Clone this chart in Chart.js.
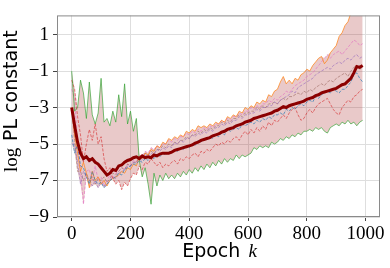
<!DOCTYPE html>
<html>
<head>
<meta charset="utf-8">
<script src="https://cdn.jsdelivr.net/npm/chart.js@4/dist/chart.umd.min.js"></script>
<style>
  html, body { margin: 0; padding: 0; background: #fff; }
  #wrap { width: 390px; height: 268px; position: relative; }
</style>
</head>
<body>
<div id="wrap"><canvas id="pl-chart"></canvas></div>
<script>
// epochs sampled every 10
const epochs = Array.from({ length: 100 }, (_, i) => i * 10);

const xTicks = [0, 200, 400, 600, 800, 1000];
const yTicks = [-9, -8, -7, -6, -5, -4, -3, -2, -1, 0, 1, 2];

// log PL constant per run
const blueRun = [
    -4.5, -5.5, -5.0, -6.2, -6.3, -6.8, -7.2, -6.5, -7.0, -7.2, -7.1, -7.4, -7.2, -7.0, -6.9, -6.8, -6.6, -6.7, -6.4, -6.3, -6.2, -6.1, -6.1,
    -5.9, -6.0, -5.8, -5.9, -5.7, -5.8, -5.6, -5.7, -5.5, -5.6, -5.4, -5.5, -5.3, -5.4, -5.2, -5.3, -5.1, -5.2, -5.0, -5.1,
    -4.8, -4.9, -4.7, -4.8, -4.6, -4.7, -4.5, -4.6, -4.4, -4.5, -4.2, -4.3, -4.2, -4.1, -4.2, -3.9, -4.0, -3.9, -3.8, -3.9,
    -3.7, -3.8, -3.6, -3.7, -3.5, -3.6, -3.4, -3.4, -3.3, -3.4, -3.1, -3.2, -3.0, -3.1, -2.9, -2.8, -2.9, -2.7, -2.6, -2.7,
    -2.4, -2.5, -2.3, -2.2, -2.1, -2.2, -2.0, -2.1, -2.2, -2.0, -2.0, -1.8, -1.6, -1.2, -1.1, -1.4, -1.6
];
const orangeRun = [
    -3.0, -4.5, -5.5, -6.5, -6.0, -6.6, -7.4, -6.5, -7.0, -6.8, -7.2, -7.0, -7.3, -7.0, -6.9, -6.8, -6.7, -6.5, -6.6, -6.3, -6.4, -6.1, -6.2,
    -5.7, -5.8, -5.5, -5.6, -5.3, -5.4, -5.1, -5.2, -4.9, -5.0, -4.7, -4.8, -4.6, -4.7, -4.5, -4.6, -4.3, -4.4, -4.2, -4.3,
    -4.0, -4.1, -4.0, -4.1, -3.9, -4.0, -3.8, -3.9, -3.7, -3.8, -3.5, -3.6, -3.4, -3.5, -3.2, -3.3, -3.0, -3.1, -2.9, -3.0,
    -2.7, -2.8, -2.6, -2.7, -2.3, -2.4, -2.1, -2.0, -1.6, -1.3, -1.7, -1.5, -1.7, -1.4, -1.5, -1.2, -1.1, -0.9, -1.0, -0.7,
    -0.5, -0.3, -0.2, -0.6, -0.4, 0.0, 0.2, 0.4, 0.9, 1.1, 1.5, 1.7, 2.2, 2.6, 2.8, 3.2, 3.4
];
const greenRun = [
    -1.0, -3.2, -3.0, -1.5, -2.2, -3.6, -1.6, -3.4, -3.9, -3.3, -1.4, -3.8, -3.6, -4.0, -3.2, -3.8, -2.3, -3.5, -1.7, -3.9, -3.2, -4.3, -3.6,
    -5.9, -6.8, -6.3, -7.2, -8.3, -6.6, -7.3, -6.7, -7.0, -6.6, -6.9, -6.7, -6.9, -6.6, -6.8, -6.5, -6.7, -6.4, -6.6, -6.3,
    -6.5, -6.2, -6.4, -6.1, -6.3, -6.0, -6.2, -5.9, -6.1, -5.8, -6.0, -5.8, -5.9, -5.6, -5.8, -5.6, -5.7, -5.6, -5.5, -5.2,
    -5.3, -5.1, -5.2, -5.1, -5.2, -4.9, -5.0, -4.9, -4.7, -4.8, -4.6, -4.7, -4.5, -4.6, -4.4, -4.5, -4.3, -4.3, -4.2, -4.3,
    -4.1, -4.2, -4.1, -4.3, -4.4, -4.1, -4.0, -3.9, -4.0, -3.8, -3.9, -3.7, -3.9, -3.8, -4.0, -3.8, -3.7
];
const redRun = [
    -1.5, -2.0, -3.5, -4.5, -6.0, -5.0, -4.2, -4.8, -3.9, -5.0, -4.6, -5.8, -6.5, -6.3, -6.9, -7.2, -7.0, -7.5, -7.1, -7.3, -6.9, -6.6, -6.7,
    -6.2, -6.4, -6.0, -6.1, -5.8, -6.0, -6.2, -6.0, -6.3, -6.1, -6.2, -6.0, -5.9, -6.1, -5.8, -5.9, -5.7, -5.8, -5.6, -5.5,
    -5.7, -5.4, -5.5, -5.3, -5.4, -5.2, -5.0, -5.1, -4.9, -5.0, -4.8, -4.9, -4.7, -4.6, -4.8, -4.5, -4.3, -4.5, -4.2, -4.4,
    -4.1, -4.3, -4.0, -4.2, -3.8, -4.0, -3.7, -3.8, -3.6, -3.4, -3.6, -3.3, -3.1, -3.0, -3.4, -3.7, -3.6, -3.3, -3.1, -3.3,
    -3.0, -2.8, -2.7, -2.6, -2.5, -2.8, -3.1, -3.3, -3.4, -3.0, -2.8, -2.6, -2.7, -2.4, -2.3, -2.1, -2.0
];
const purpleRun = [
    -5.0, -5.0, -6.0, -7.2, -6.5, -6.8, -6.9, -7.3, -7.0, -7.4, -7.1, -7.3, -7.2, -7.0, -6.8, -6.9, -6.6, -6.5, -6.4, -6.2, -6.2, -6.0, -6.0,
    -5.8, -5.9, -5.6, -5.7, -5.5, -5.6, -5.3, -5.4, -5.2, -5.3, -5.1, -5.2, -4.9, -5.0, -4.8, -4.9, -4.7, -4.7, -4.5, -4.6,
    -4.4, -4.5, -4.3, -4.4, -4.2, -4.3, -4.1, -4.1, -3.9, -4.0, -3.8, -3.9, -3.7, -3.7, -3.5, -3.6, -3.4, -3.4, -3.3, -3.3,
    -3.1, -3.2, -3.0, -3.0, -2.9, -2.9, -2.7, -2.8, -2.6, -2.5, -2.4, -2.3, -2.1, -2.2, -1.9, -1.8, -1.7, -1.6, -1.5, -1.4,
    -1.2, -1.1, -1.0, -0.9, -0.8, -0.9, -0.7, -0.6, -0.5, -0.6, -0.4, -0.3, -0.4, -0.2, -0.1, -0.3, -0.2
];
const brownRun = [
    -3.0, -4.8, -6.5, -6.5, -7.0, -6.6, -7.0, -6.8, -7.2, -6.9, -7.0, -6.8, -7.1, -6.9, -6.6, -6.7, -6.5, -6.3, -6.4, -6.1, -6.2, -6.0, -6.0,
    -5.7, -5.8, -5.5, -5.6, -5.4, -5.5, -5.3, -5.3, -5.1, -5.2, -5.0, -5.1, -4.9, -5.0, -4.8, -4.8, -4.6, -4.7, -4.5, -4.5,
    -4.3, -4.4, -4.2, -4.3, -4.1, -4.2, -4.0, -4.0, -3.8, -3.9, -3.7, -3.8, -3.6, -3.6, -3.4, -3.5, -3.3, -3.3, -3.2, -3.2,
    -3.0, -3.1, -2.9, -3.0, -2.8, -2.8, -2.7, -2.8, -2.6, -2.5, -2.6, -2.4, -2.4, -2.3, -2.2, -2.3, -2.1, -2.2, -2.0, -2.1,
    -1.9, -1.8, -1.7, -1.8, -1.6, -1.5, -1.6, -1.4, -1.3, -1.2, -1.1, -1.3, -1.0, -0.8, -0.7, -0.9, -0.8
];
const pinkRun = [
    -2.0, -2.5, -5.0, -6.5, -8.3, -6.5, -6.4, -7.0, -6.2, -7.0, -6.8, -7.3, -7.0, -6.7, -6.9, -6.6, -6.5, -6.3, -6.4, -6.1, -6.2, -5.9, -6.0,
    -5.6, -5.7, -5.4, -5.5, -5.2, -5.3, -5.1, -5.2, -5.0, -5.0, -4.8, -4.9, -4.7, -4.8, -4.6, -4.6, -4.4, -4.5, -4.3, -4.4,
    -4.2, -4.3, -4.1, -4.2, -4.0, -4.1, -3.9, -3.9, -3.7, -3.8, -3.6, -3.7, -3.5, -3.5, -3.3, -3.4, -3.2, -3.2, -3.0, -3.1,
    -2.9, -3.0, -2.8, -2.8, -2.6, -2.7, -2.5, -2.6, -2.4, -2.3, -2.1, -2.2, -2.0, -1.8, -1.7, -1.6, -1.5, -1.3, -1.2, -1.1,
    -0.9, -0.7, -0.5, -0.3, -0.1, -0.3, -0.1, 0.0, 0.1, -0.1, 0.1, 0.3, 0.5, 0.7, 0.6, 0.4, 0.5
];

// mean over runs (thick dark red line)
const meanRun = [
    -3.0, -4.0, -4.9, -5.5, -5.8, -5.7, -5.9, -5.8, -6.0, -6.1, -6.3, -6.5, -6.7, -6.6, -6.4, -6.45, -6.2, -6.15, -6.0, -5.9, -5.85, -5.75, -5.7,
    -5.8, -5.65, -5.75, -5.7, -5.75, -5.6, -5.65, -5.55, -5.5, -5.5, -5.5, -5.45, -5.35, -5.3, -5.25, -5.2, -5.15, -5.1, -5.05, -4.95,
    -4.9, -4.8, -4.75, -4.7, -4.65, -4.55, -4.5, -4.45, -4.35, -4.3, -4.2, -4.15, -4.1, -4.0, -3.95, -3.9, -3.8, -3.75, -3.7, -3.6,
    -3.55, -3.5, -3.45, -3.4, -3.35, -3.3, -3.2, -3.15, -3.05, -2.95, -3.0, -2.9, -2.85, -2.8, -2.75, -2.7, -2.65, -2.55, -2.5, -2.45,
    -2.35, -2.3, -2.2, -2.15, -2.1, -2.05, -2.0, -1.95, -1.85, -1.75, -1.7, -1.55, -1.4, -1.1, -0.75, -0.8, -0.7
];

const RUNS = [
    { values: blueRun,   color: 'rgba(31,119,180,0.65)',  dash: [3, 1.5] },
    { values: orangeRun, color: 'rgba(255,127,14,0.7)',   dash: [] },
    { values: greenRun,  color: 'rgba(44,160,44,0.65)',   dash: [] },
    { values: redRun,    color: 'rgba(214,39,40,0.6)',    dash: [3, 1.5] },
    { values: purpleRun, color: 'rgba(148,103,189,0.6)',  dash: [3, 1.5] },
    { values: brownRun,  color: 'rgba(140,86,75,0.5)',    dash: [3, 1.5] },
    { values: pinkRun,   color: 'rgba(227,119,194,0.7)',  dash: [3, 1.5] },
];

const SERIF = '"Liberation Serif", "DejaVu Serif", serif';
const SANS = '"DejaVu Sans", sans-serif';

function toPoints(values) {
    return values.map((v, i) => ({ x: epochs[i], y: v }));
}

// min / max envelope over all runs for the shaded band
const bandLow = epochs.map((_, i) => Math.min(...RUNS.map(r => r.values[i])));
const bandHigh = epochs.map((_, i) => Math.max(...RUNS.map(r => r.values[i])));

const datasets = [];
datasets.push({
    data: toPoints(bandLow),
    borderWidth: 0,
    pointRadius: 0,
    fill: false,
    order: 3
});
datasets.push({
    data: toPoints(bandHigh),
    borderWidth: 0,
    pointRadius: 0,
    backgroundColor: 'rgba(165,30,30,0.24)',
    fill: { target: 0 },
    order: 3
});
RUNS.forEach(run => {
    datasets.push({
        data: toPoints(run.values),
        borderColor: run.color,
        borderWidth: 1,
        borderDash: run.dash,
        pointRadius: 0,
        fill: false,
        order: 2
    });
});
datasets.push({
    data: toPoints(meanRun),
    borderColor: '#8b0000',
    borderWidth: 3,
    pointRadius: 0,
    fill: false,
    order: 0
});

// axis titles with mixed fonts + full frame box
const framePlugin = {
    id: 'frame',
    afterDraw(chart) {
        const { ctx, chartArea } = chart;
        ctx.save();
        ctx.strokeStyle = '#8a8a8a';
        ctx.lineWidth = 1;
        ctx.strokeRect(chartArea.left + 0.5, chartArea.top + 0.5,
            chartArea.right - chartArea.left - 1, chartArea.bottom - chartArea.top - 1);

        ctx.fillStyle = '#000';
        ctx.textBaseline = 'alphabetic';

        // x title: "Epoch k"
        ctx.font = '19px ' + SANS;
        const wEpoch = ctx.measureText('Epoch ').width;
        ctx.font = 'italic 19px ' + SERIF;
        const wK = ctx.measureText('k').width;
        const cx = (chartArea.left + chartArea.right) / 2;
        let x0 = cx - (wEpoch + wK) / 2;
        ctx.font = '19px ' + SANS;
        ctx.fillText('Epoch ', x0, 257);
        ctx.font = 'italic 19px ' + SERIF;
        ctx.fillText('k', x0 + wEpoch + 2, 257);

        // y title: "log PL constant", rotated
        ctx.translate(16.5, 172);
        ctx.rotate(-Math.PI / 2);
        ctx.font = '19px ' + SERIF;
        ctx.fillText('log', 0, 0);
        const wLog = ctx.measureText('log ').width;
        ctx.font = '19px ' + SANS;
        ctx.fillText('PL constant', wLog + 2, 0);
        ctx.restore();
    }
};

new Chart(document.getElementById('pl-chart'), {
    type: 'line',
    data: { datasets: datasets },
    options: {
        responsive: true,
        maintainAspectRatio: false,
        animation: false,
        layout: { padding: { left: 0, right: 10, top: 2, bottom: 0 } },
        plugins: {
            legend: { display: false },
            tooltip: { enabled: false }
        },
        scales: {
            x: {
                type: 'linear',
                min: -50,
                max: 1049,
                afterBuildTicks: scale => { scale.ticks = xTicks.map(v => ({ value: v })); },
                afterFit: scale => { scale.height = 51; },
                border: { display: false },
                grid: { color: '#dedede', lineWidth: 1, tickColor: '#444', tickLength: 4 },
                ticks: {
                    color: '#000',
                    padding: 2,
                    maxRotation: 0,
                    font: { family: SERIF, size: 19 },
                    callback: v => String(v)
                }
            },
            y: {
                type: 'linear',
                min: -9,
                max: 2.05,
                afterBuildTicks: scale => { scale.ticks = yTicks.map(v => ({ value: v })); },
                afterFit: scale => { scale.width = 57; },
                border: { display: false },
                grid: { color: '#dedede', lineWidth: 1, tickColor: '#444', tickLength: 4 },
                ticks: {
                    color: '#000',
                    padding: 4,
                    font: { family: SERIF, size: 19 },
                    callback: v => (Math.abs(v) % 2 === 1 ? (v < 0 ? '\u2212' + Math.abs(v) : String(v)) : '')
                }
            }
        }
    },
    plugins: [framePlugin]
});
</script>
</body>
</html>
